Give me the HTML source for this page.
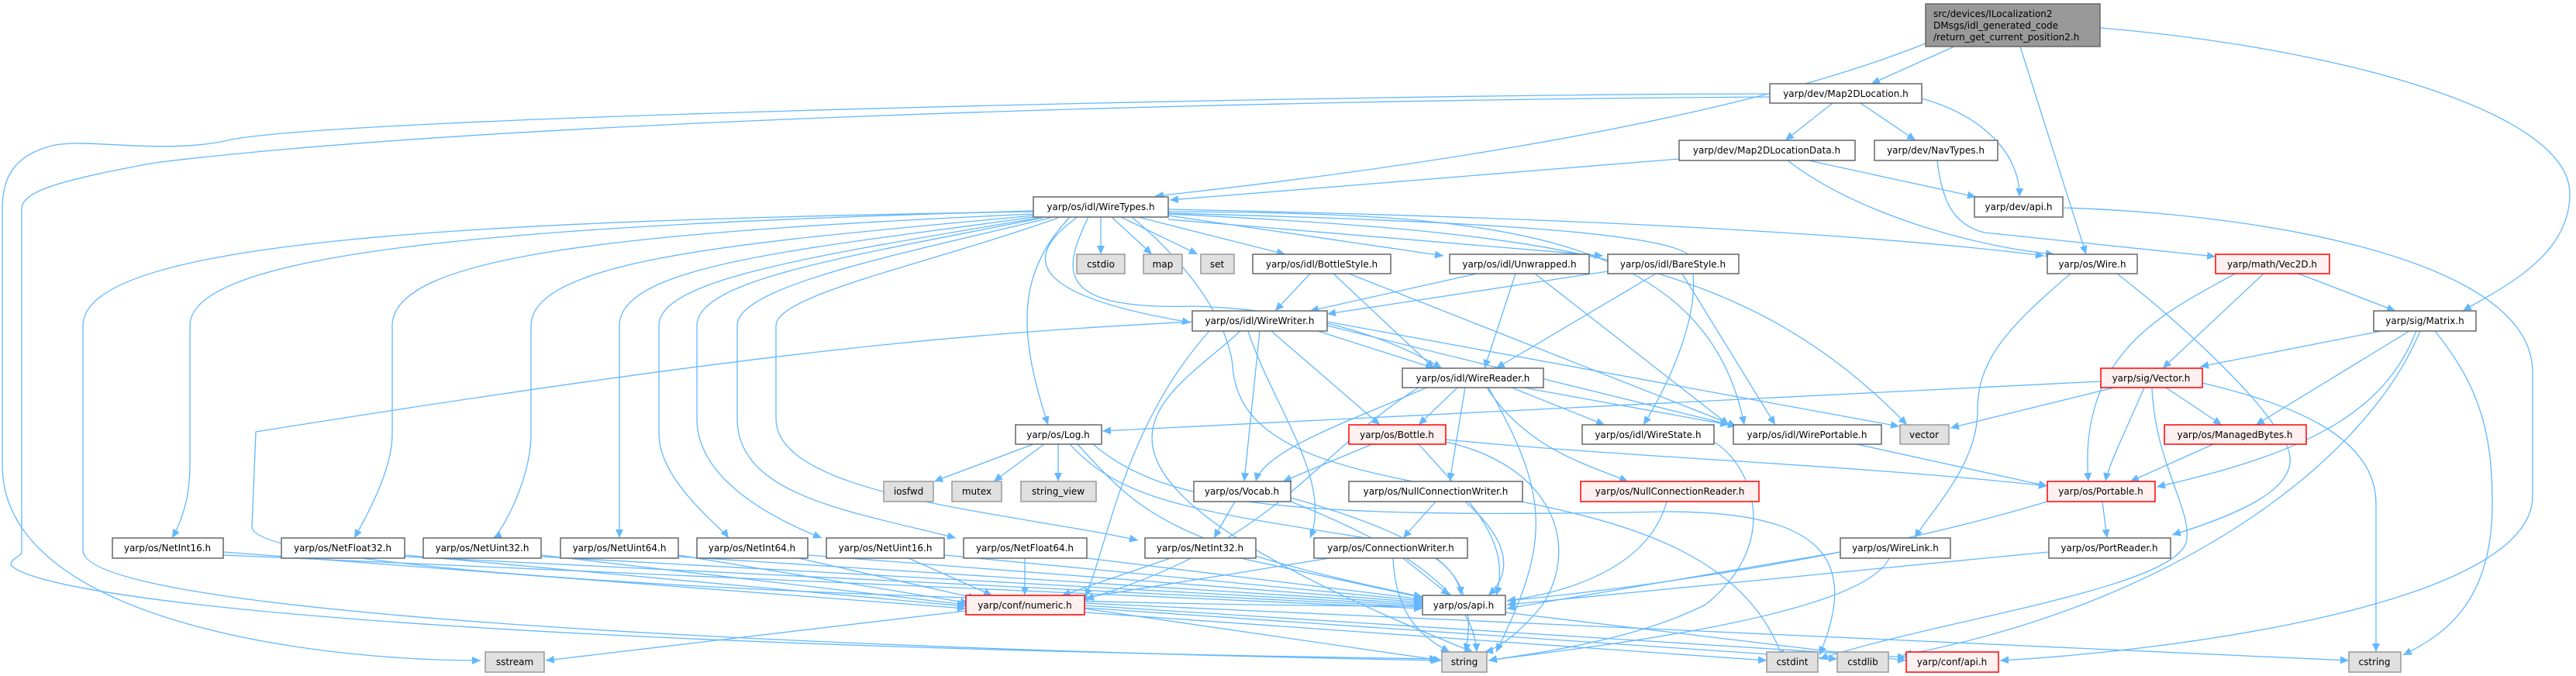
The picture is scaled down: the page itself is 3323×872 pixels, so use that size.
<!DOCTYPE html>
<html><head><meta charset="utf-8"><style>
html,body{margin:0;padding:0;background:#fff;}
svg{display:block;}
.e{fill:none;stroke:#63b8ff;stroke-width:1.3;marker-end:url(#a);}
.n{fill:#fff;stroke:#666;stroke-width:1.5;}
.g{fill:#e0e0e0;stroke:#999;stroke-width:1.5;}
.r{fill:#fff0f0;stroke:#ff0000;stroke-width:1.5;}
.m{fill:#999;stroke:#666;stroke-width:1.5;}
text{font-family:"DejaVu Sans","Liberation Sans",sans-serif;font-size:12px;fill:#000;}
</style></head><body>
<svg width="3323" height="872" viewBox="0 0 3323 872" xmlns="http://www.w3.org/2000/svg">
<defs><marker id="a" markerUnits="userSpaceOnUse" markerWidth="12" markerHeight="10" refX="11" refY="5" orient="auto"><path d="M0,0 L11,5 L0,10 z" fill="#63b8ff"/></marker></defs>
<g>
<!-- main -->
<path class="e" d="M2484,56 C2200,170 1700,230 1490,253"/>
<path class="e" d="M2521,60 L2414,108"/>
<path class="e" d="M2606,60 L2691,328"/>
<path class="e" d="M2709,36 C3000,60 3315,140 3315,250 C3315,330 3230,370 3177,401"/>
<!-- Map2DLocation -->
<path class="e" d="M2364,133 L2303,181"/>
<path class="e" d="M2400,133 L2471,181"/>
<path class="e" d="M2479,127 C2560,150 2606,200 2605,254"/>
<path class="e" d="M2283,121 C1800,121 400,150 290,182 C200,200 100,175 60,190 C10,205 3,240 3,270 L3,600 C3,800 400,852 620,852"/>
<path class="e" d="M2283,125 C1500,130 600,160 200,210 C60,235 28,250 28,270 L28,712 C28,718 10,722 15,730 C60,770 500,830 1855,850"/>
<!-- Map2DLocationData -->
<path class="e" d="M2166,205 L1509,258"/>
<path class="e" d="M2333,207 L2549,254"/>
<path class="e" d="M2306,207 C2400,280 2560,320 2650,328"/>
<path class="e" d="M2499,207 C2505,260 2520,290 2560,300 L2858,331"/>
<path class="e" d="M2661,268 C2900,275 3267,330 3267,480 L3267,640 C3267,780 2800,840 2580,852"/>
<!-- Wire -->
<path class="e" d="M2671,353 C2580,430 2551,470 2551,530 C2551,600 2490,660 2470,694"/>
<path class="e" d="M2731,353 C2830,430 2920,520 2940,560 C2990,620 2900,660 2802,690"/>
<!-- Vec2D -->
<path class="e" d="M2965,353 L3090,401"/>
<path class="e" d="M2920,353 L2790,475"/>
<path class="e" d="M2883,353 C2800,400 2680,450 2694,621"/>
<!-- Matrix -->
<path class="e" d="M3072,427 L2838,473"/>
<path class="e" d="M3108,427 L2910,548"/>
<path class="e" d="M3117,427 C3080,520 3000,580 2782,628"/>
<path class="e" d="M3141,427 C3200,500 3215,560 3215,650 C3215,780 3150,820 3100,845"/>
<path class="e" d="M3122,427 C3050,600 2800,780 2455,845"/>
<!-- Vector -->
<path class="e" d="M2710,492 L1422,556"/>
<path class="e" d="M2727,500 L2516,552"/>
<path class="e" d="M2794,500 L2866,548"/>
<path class="e" d="M2766,500 C2740,560 2720,600 2716,621"/>
<path class="e" d="M2841,494 C2950,520 3065,560 3065,650 L3065,841"/>
<path class="e" d="M2776,500 C2780,600 2830,660 2820,700 C2800,760 2500,800 2347,850"/>
<path class="e" d="M2855,573 L2748,621"/>
<path class="e" d="M2395,573 L2641,627"/>
<!-- Portable etc -->
<path class="e" d="M2712,647 L2718,694"/>
<path class="e" d="M2641,647 C2400,720 2100,760 1944,775"/>
<path class="e" d="M2643,712 L1944,780"/>
<path class="e" d="M2374,712 L1944,785"/>
<path class="e" d="M2437,720 C2400,800 2000,840 1920,852"/>
<!-- WireTypes -->
<path class="e" d="M1420,280 L1420,328"/>
<path class="e" d="M1434,280 L1486,328"/>
<path class="e" d="M1446,280 L1545,328"/>
<path class="e" d="M1468,280 L1658,328"/>
<path class="e" d="M1507,278 L1862,330"/>
<path class="e" d="M1507,283 L2068,330"/>
<path class="e" d="M1507,270 C2000,280 2400,300 2637,330"/>
<path class="e" d="M1390,280 C1320,330 1320,380 1536,416"/>
<path class="e" d="M1404,280 C1370,350 1360,400 1540,395 C1700,400 1800,440 1860,475"/>
<path class="e" d="M1507,273 C1900,275 2200,290 2250,548"/>
<path class="e" d="M1507,275 C1900,285 2150,300 2180,330 C2200,400 2150,500 2120,548"/>
<path class="e" d="M1380,280 C1315,350 1310,420 1352,548"/>
<path class="e" d="M1507,276 C2000,300 2250,330 2460,548"/>
<path class="e" d="M1460,280 C1520,330 1580,400 1590,470 C1600,700 2200,560 2300,850"/>
<path class="e" d="M1333,272 C700,290 245,320 245,420 L245,600 C245,650 230,680 222,694"/>
<path class="e" d="M1333,276 C800,300 506,330 506,420 L506,560 C506,610 465,680 457,694"/>
<path class="e" d="M1333,278 C1000,310 685,330 685,420 L685,560 C685,620 645,690 636,694"/>
<path class="e" d="M1333,280 C1050,320 799,340 799,420 L799,694"/>
<path class="e" d="M1340,281 C1050,330 850,360 850,420 L850,560 C850,620 930,680 940,694"/>
<path class="e" d="M1345,281 C1100,330 899,360 899,420 L899,540 C899,620 1000,670 1060,694"/>
<path class="e" d="M1355,281 C1150,330 951,370 951,420 L951,540 C951,640 1100,660 1233,694"/>
<path class="e" d="M1365,281 C1200,340 1001,380 1001,420 L1001,540 C1001,640 1300,660 1468,697"/>
<path class="e" d="M1333,273 C600,285 107,310 107,420 L107,710 C107,800 1200,840 1857,852"/>
<!-- Net -> numeric / api -->
<path class="e" d="M288,712 L1246,785"/><path class="e" d="M288,716 L1835,785"/>
<path class="e" d="M522,716 L1246,782"/><path class="e" d="M522,718 L1835,783"/>
<path class="e" d="M698,716 L1246,780"/><path class="e" d="M698,718 L1835,781"/>
<path class="e" d="M875,716 L1250,778"/><path class="e" d="M875,718 L1835,779"/>
<path class="e" d="M1030,720 L1260,772"/><path class="e" d="M1042,716 L1835,777"/>
<path class="e" d="M1172,720 L1280,768"/><path class="e" d="M1218,716 L1835,775"/>
<path class="e" d="M1322,720 L1322,768"/><path class="e" d="M1402,720 L1835,773"/>
<path class="e" d="M1510,720 L1370,768"/><path class="e" d="M1600,720 L1835,771"/>
<path class="e" d="M1715,720 L1392,772"/><path class="e" d="M1810,720 L1870,768"/>
<path class="e" d="M1797,720 C1800,790 1830,820 1870,841"/>
<!-- numeric -->
<path class="e" d="M1246,788 L704,852"/>
<path class="e" d="M1399,785 L1860,852"/>
<path class="e" d="M1399,790 L2279,852"/>
<path class="e" d="M1399,784 L2370,850"/>
<path class="e" d="M1399,781 L2459,848"/>
<path class="e" d="M1399,778 L3030,852"/>
<path class="e" d="M1942,790 L2459,852"/>
<!-- Log -->
<path class="e" d="M1333,573 L1205,621"/>
<path class="e" d="M1347,573 L1282,621"/>
<path class="e" d="M1365,573 L1365,621"/>
<path class="e" d="M1390,573 C1470,660 1500,700 1835,770"/>
<path class="e" d="M1380,573 C1450,650 1550,660 1800,700 C1900,720 1900,800 1890,841"/>
<path class="e" d="M1410,573 C1500,650 1650,670 2150,660 C2350,660 2400,720 2347,845"/>
<!-- Bottle -->
<path class="e" d="M1770,573 L1655,621"/>
<path class="e" d="M1865,567 C2100,590 2400,600 2641,627"/>
<path class="e" d="M1865,570 C2000,600 2040,700 1990,780 C1950,830 1920,840 1915,841"/>
<path class="e" d="M1830,573 C1900,650 1950,700 1930,768"/>
<!-- Vocab -->
<path class="e" d="M1593,647 L1566,694"/>
<path class="e" d="M1665,642 C1800,680 1880,720 1885,768"/>
<path class="e" d="M1660,645 C1800,700 1900,760 1905,841"/>
<!-- NullConn -->
<path class="e" d="M1852,647 L1810,694"/>
<path class="e" d="M1890,647 C1950,700 1950,740 1920,768"/>
<path class="e" d="M2150,647 C2130,720 2050,760 1944,775"/>
<!-- WireWriter -->
<path class="e" d="M1700,427 L1850,475"/>
<path class="e" d="M1640,427 L1780,548"/>
<path class="e" d="M1625,427 L1605,621"/>
<path class="e" d="M1712,420 L2240,550"/>
<path class="e" d="M1712,415 L2450,550"/>
<path class="e" d="M1560,427 C1450,550 1430,700 1400,770"/>
<path class="e" d="M1610,427 C1640,520 1720,620 1690,694"/>
<path class="e" d="M1538,415 C1250,430 1000,450 330,557 L325,680 C330,740 1200,780 1835,782"/>
<path class="e" d="M1600,427 C1500,520 1300,600 1900,841"/>
<!-- WireReader -->
<path class="e" d="M1880,500 L1830,548"/>
<path class="e" d="M1840,500 C1750,540 1630,580 1620,621"/>
<path class="e" d="M1950,500 L2070,548"/>
<path class="e" d="M1965,500 L2230,548"/>
<path class="e" d="M1890,500 L1870,621"/>
<path class="e" d="M1918,500 C1970,580 2050,600 2100,621"/>
<path class="e" d="M1830,500 C1700,580 1650,700 1400,773"/>
<path class="e" d="M1920,500 C2000,640 2000,700 1930,841"/>
<!-- Style -->
<path class="e" d="M1690,353 L1645,401"/>
<path class="e" d="M1720,353 L1850,475"/>
<path class="e" d="M1740,353 L2240,550"/>
<path class="e" d="M1905,353 L1690,401"/>
<path class="e" d="M1955,353 L1915,475"/>
<path class="e" d="M1980,353 L2230,548"/>
<path class="e" d="M2074,350 L1712,405"/>
<path class="e" d="M2136,353 L1930,475"/>
<path class="e" d="M2170,353 L2290,548"/>
<path class="e" d="M2211,570 C2260,600 2300,700 2200,780 C2100,830 1960,845 1920,852"/>
</g>
<g>
<rect class="m" x="2484" y="5" width="225" height="55"/>
<text x="2494" y="22">src/devices/ILocalization2</text>
<text x="2494" y="37">DMsgs/idl_generated_code</text>
<text x="2494" y="52">/return_get_current_position2.h</text>
</g>
<g text-anchor="middle">
<rect class="n" x="2283" y="108" width="196" height="25"/><text x="2381" y="125">yarp/dev/Map2DLocation.h</text>
<rect class="n" x="2166" y="181" width="227" height="26"/><text x="2279" y="198">yarp/dev/Map2DLocationData.h</text>
<rect class="n" x="2418" y="181" width="159" height="26"/><text x="2497" y="198">yarp/dev/NavTypes.h</text>
<rect class="n" x="2547" y="254" width="114" height="26"/><text x="2604" y="271">yarp/dev/api.h</text>
<rect class="n" x="1333" y="254" width="174" height="26"/><text x="1420" y="271">yarp/os/idl/WireTypes.h</text>
<rect class="g" x="1389" y="328" width="62" height="25"/><text x="1420" y="345">cstdio</text>
<rect class="g" x="1475" y="328" width="50" height="25"/><text x="1500" y="345">map</text>
<rect class="g" x="1549" y="328" width="43" height="25"/><text x="1570" y="345">set</text>
<rect class="n" x="1616" y="328" width="178" height="25"/><text x="1705" y="345">yarp/os/idl/BottleStyle.h</text>
<rect class="n" x="1870" y="328" width="180" height="25"/><text x="1960" y="345">yarp/os/idl/Unwrapped.h</text>
<rect class="n" x="2074" y="328" width="169" height="25"/><text x="2158" y="345">yarp/os/idl/BareStyle.h</text>
<rect class="n" x="2641" y="328" width="116" height="25"/><text x="2699" y="345">yarp/os/Wire.h</text>
<rect class="r" x="2858" y="328" width="147" height="25"/><text x="2931" y="345">yarp/math/Vec2D.h</text>
<rect class="n" x="1538" y="401" width="174" height="26"/><text x="1625" y="418">yarp/os/idl/WireWriter.h</text>
<rect class="n" x="3062" y="401" width="132" height="26"/><text x="3128" y="418">yarp/sig/Matrix.h</text>
<rect class="n" x="1809" y="475" width="182" height="25"/><text x="1900" y="492">yarp/os/idl/WireReader.h</text>
<rect class="r" x="2710" y="475" width="131" height="25"/><text x="2775" y="492">yarp/sig/Vector.h</text>
<rect class="n" x="1310" y="548" width="111" height="25"/><text x="1365" y="565">yarp/os/Log.h</text>
<rect class="r" x="1740" y="548" width="125" height="25"/><text x="1802" y="565">yarp/os/Bottle.h</text>
<rect class="n" x="2041" y="548" width="170" height="25"/><text x="2126" y="565">yarp/os/idl/WireState.h</text>
<rect class="n" x="2236" y="548" width="191" height="25"/><text x="2331" y="565">yarp/os/idl/WirePortable.h</text>
<rect class="g" x="2451" y="548" width="63" height="25"/><text x="2482" y="565">vector</text>
<rect class="r" x="2792" y="548" width="183" height="25"/><text x="2883" y="565">yarp/os/ManagedBytes.h</text>
<rect class="g" x="1140" y="621" width="64" height="26"/><text x="1172" y="638">iosfwd</text>
<rect class="g" x="1228" y="621" width="64" height="26"/><text x="1260" y="638">mutex</text>
<rect class="g" x="1317" y="621" width="97" height="26"/><text x="1365" y="638">string_view</text>
<rect class="n" x="1540" y="621" width="125" height="26"/><text x="1602" y="638">yarp/os/Vocab.h</text>
<rect class="n" x="1740" y="621" width="224" height="26"/><text x="1852" y="638">yarp/os/NullConnectionWriter.h</text>
<rect class="r" x="2039" y="621" width="230" height="26"/><text x="2154" y="638">yarp/os/NullConnectionReader.h</text>
<rect class="r" x="2641" y="621" width="139" height="26"/><text x="2710" y="638">yarp/os/Portable.h</text>
<rect class="n" x="145" y="694" width="143" height="26"/><text x="216" y="711">yarp/os/NetInt16.h</text>
<rect class="n" x="363" y="694" width="159" height="26"/><text x="442" y="711">yarp/os/NetFloat32.h</text>
<rect class="n" x="546" y="694" width="152" height="26"/><text x="622" y="711">yarp/os/NetUint32.h</text>
<rect class="n" x="723" y="694" width="152" height="26"/><text x="799" y="711">yarp/os/NetUint64.h</text>
<rect class="n" x="899" y="694" width="143" height="26"/><text x="970" y="711">yarp/os/NetInt64.h</text>
<rect class="n" x="1066" y="694" width="152" height="26"/><text x="1142" y="711">yarp/os/NetUint16.h</text>
<rect class="n" x="1243" y="694" width="159" height="26"/><text x="1322" y="711">yarp/os/NetFloat64.h</text>
<rect class="n" x="1477" y="694" width="143" height="26"/><text x="1548" y="711">yarp/os/NetInt32.h</text>
<rect class="n" x="1695" y="694" width="198" height="26"/><text x="1794" y="711">yarp/os/ConnectionWriter.h</text>
<rect class="n" x="2374" y="694" width="142" height="26"/><text x="2445" y="711">yarp/os/WireLink.h</text>
<rect class="n" x="2643" y="694" width="157" height="26"/><text x="2721" y="711">yarp/os/PortReader.h</text>
<rect class="r" x="1246" y="768" width="153" height="25"/><text x="1322" y="785">yarp/conf/numeric.h</text>
<rect class="n" x="1835" y="768" width="107" height="25"/><text x="1888" y="785">yarp/os/api.h</text>
<rect class="g" x="626" y="841" width="76" height="26"/><text x="664" y="858">sstream</text>
<rect class="g" x="1860" y="841" width="58" height="26"/><text x="1889" y="858">string</text>
<rect class="g" x="2279" y="841" width="66" height="26"/><text x="2312" y="858">cstdint</text>
<rect class="g" x="2370" y="841" width="66" height="26"/><text x="2403" y="858">cstdlib</text>
<rect class="r" x="2459" y="841" width="119" height="26"/><text x="2518" y="858">yarp/conf/api.h</text>
<rect class="g" x="3030" y="841" width="67" height="26"/><text x="3063" y="858">cstring</text>
</g>
</svg>
</body></html>
